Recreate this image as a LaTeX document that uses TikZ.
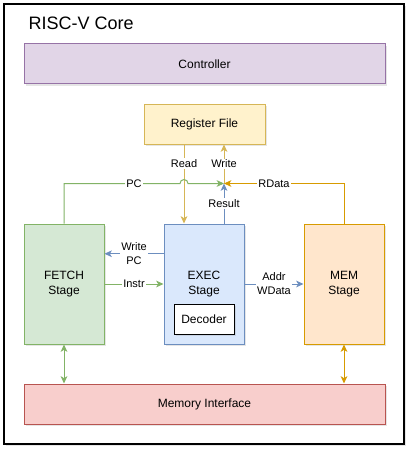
\documentclass[tikz,border=0pt]{standalone}
\usepackage{fontspec}
\setmainfont{Liberation Sans}
\usetikzlibrary{arrows.meta, shadows, calc}

\definecolor{ctrlfill}{HTML}{E1D5E7}
\definecolor{ctrlline}{HTML}{9673A6}
\definecolor{regfill}{HTML}{FFF2CC}
\definecolor{regline}{HTML}{D6B656}
\definecolor{fetchfill}{HTML}{D5E8D4}
\definecolor{fetchline}{HTML}{82B366}
\definecolor{execfill}{HTML}{DAE8FC}
\definecolor{execline}{HTML}{6C8EBF}
\definecolor{memfill}{HTML}{FFE6CC}
\definecolor{memline}{HTML}{D79B00}
\definecolor{mifill}{HTML}{F8CECC}
\definecolor{miline}{HTML}{B85450}

\tikzset{
  blk/.style={draw, rectangle, line width=0.75pt, align=center,
    font=\fontsize{9}{11}\selectfont,
    drop shadow={shadow xshift=1.5pt, shadow yshift=-1.5pt, opacity=0.2}},
  stagebox/.style={blk, minimum width=60pt, minimum height=90pt},
  widebox/.style={blk, minimum width=270.75pt, minimum height=30pt},
  lbl/.style={fill=white, inner sep=0.8pt, align=center,
    font=\fontsize{8.25}{10.5}\selectfont},
  flow/.style={line width=0.75pt, -{Stealth[length=5.5pt, width=5pt, inset=1.5pt]}},
  biflow/.style={line width=0.75pt,
    {Stealth[length=5.5pt, width=5pt, inset=1.5pt]}-{Stealth[length=5.5pt, width=5pt, inset=1.5pt]}},
}

\begin{document}
\begin{tikzpicture}[x=0.75pt, y=-0.75pt]
  \useasboundingbox (0,0) rectangle (412,453);

  % outer frame
  \node[draw, line width=0.9pt, fill=white, minimum width=300pt, minimum height=330pt,
    drop shadow={shadow xshift=1.5pt, shadow yshift=-1.5pt, opacity=0.2}]
    (core) at (204,224) {};
  \node[anchor=west, font=\fontsize{13.5}{16}\selectfont] (title) at (24,23) {RISC-V Core};

  % blocks
  \node[widebox, fill=ctrlfill, draw=ctrlline] (ctrl) at (204.5,64) {Controller};
  \node[blk, fill=regfill, draw=regline, minimum width=90.75pt, minimum height=30pt]
    (regf) at (204.5,124) {Register File};
  \node[stagebox, fill=fetchfill, draw=fetchline] (fetch) at (64,284) {FETCH\\Stage};
  \node[stagebox, fill=execfill, draw=execline] (exec) at (204,284) {EXEC\\Stage};
  \node[stagebox, fill=memfill, draw=memline] (mem) at (344,284) {MEM\\Stage};
  \node[blk, fill=white, draw=black, minimum width=45pt, minimum height=22.5pt]
    (dec) at (204,319) {Decoder};
  \node[widebox, fill=mifill, draw=miline] (memif) at (204.5,404) {Memory Interface};

  % helper points
  \coordinate (rd) at ($(exec.north)+(-20,0)$);
  \coordinate (wr) at ($(exec.north)+(20,0)$);
  \coordinate (jn) at ($(wr)+(0,-40)$);
  \coordinate (hop) at (rd |- jn);
  \coordinate (wpc) at ($(exec.north west)!0.25!(exec.south west)$);

  % register file ports
  \draw[flow, draw=regline] (rd |- regf.south) -- node[lbl, pos=0.24] (readl) {Read} (rd);
  \draw[flow, draw=regline] (jn) -- node[lbl] (writel) {Write} (wr |- regf.south);

  % PC and RData into the junction
  \draw[flow, draw=fetchline] (fetch.north) -- (fetch.north |- jn)
    -- ($(hop)+(-4,0)$) arc[start angle=180, end angle=360, radius=4] -- (jn);
  \node[lbl] (pcl) at (134,184) {PC};
  \draw[flow, draw=memline] (mem.north) -- (mem.north |- jn) -- (jn);
  \node[lbl] (rdatal) at (274,184) {RData};
  \draw[flow, draw=execline] (wr) -- node[lbl] (resl) {Result} (jn);

  % stage links
  \draw[flow, draw=execline] (wpc) -- node[lbl] (wpcl) {Write\\PC} (wpc -| fetch.east);
  \draw[flow, draw=fetchline] (fetch.east) -- node[lbl] (instrl) {Instr} (exec.west);
  \draw[flow, draw=execline] (exec.east) -- node[lbl] (addrl) {Addr\\WData} (mem.west);

  % memory interface
  \draw[biflow, draw=fetchline] (fetch.south) -- (fetch.south |- memif.north);
  \draw[biflow, draw=memline] (mem.south) -- (mem.south |- memif.north);
\end{tikzpicture}
\end{document}
